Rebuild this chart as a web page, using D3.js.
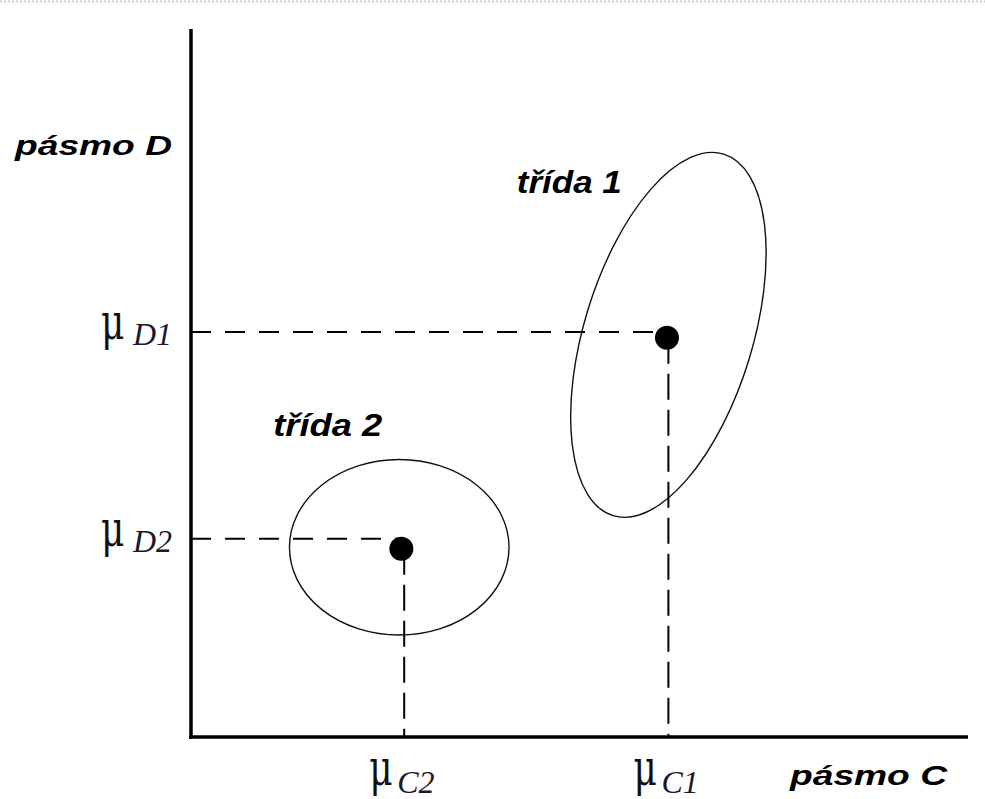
<!DOCTYPE html>
<html>
<head>
<meta charset="utf-8">
<script src="https://cdn.jsdelivr.net/npm/d3@7"></script>
<style>
  body { margin: 0; background: #fff; }
</style>
</head>
<body>
<div id="chart"></div>
<script>
// two classes in the space of band C (x) and band D (y)
const classes = ['třída 1', 'třída 2'];
const meanC = [67.2, 29.7];   // dots
const meanD = [56.4, 26.6];
const muC = [67.4, 30.1];     // where the dashed guides meet the axes
const muD = [57.2, 28.0];
const muCLabels = ['C1', 'C2'];
const muDLabels = ['D1', 'D2'];

// ellipses: centre, half axes, tilt from vertical (deg)
const ellC = [67.4, 29.4];
const ellD = [56.8, 26.8];
const ellRx = [11.9, 15.5];
const ellRy = [26.7, 12.4];
const ellTilt = [17, 0];

// class label anchors
const labC = [46.0, 11.6];
const labD = [76.8, 42.5];
const labW = [105, 109];

const W = 985, H = 799;

const x = d3.scaleLinear().domain([0, 109.7]).range([191, 968]);
const y = d3.scaleLinear().domain([0, 100]).range([737, 29]);

const svg = d3.select('#chart')
  .append('svg')
  .attr('width', W)
  .attr('height', H);

// faint dotted edge at the top
svg.append('line')
  .attr('x1', 0).attr('x2', W)
  .attr('y1', 1.5).attr('y2', 1.5)
  .attr('stroke', '#ccc')
  .attr('stroke-width', 2)
  .attr('stroke-dasharray', '2,2');

// dashed guides
classes.forEach((c, i) => {
  svg.append('line')
    .attr('x1', x(0)).attr('x2', x(meanC[i]))
    .attr('y1', y(muD[i])).attr('y2', y(muD[i]))
    .attr('stroke', '#000')
    .attr('stroke-width', 2)
    .attr('stroke-dasharray', '20,14');
  svg.append('line')
    .attr('x1', x(muC[i])).attr('x2', x(muC[i]))
    .attr('y1', y(meanD[i])).attr('y2', y(0))
    .attr('stroke', '#000')
    .attr('stroke-width', 2)
    .attr('stroke-dasharray', '26,10');
});

// ellipses
classes.forEach((c, i) => {
  const cx = x(ellC[i]), cy = y(ellD[i]);
  svg.append('ellipse')
    .attr('cx', cx).attr('cy', cy)
    .attr('rx', x(ellRx[i]) - x(0))
    .attr('ry', y(0) - y(ellRy[i]))
    .attr('transform', `rotate(${ellTilt[i]},${cx},${cy})`)
    .attr('fill', 'none')
    .attr('stroke', '#111')
    .attr('stroke-width', 1.4);
});

// class means
svg.selectAll('circle.mean')
  .data(classes)
  .join('circle')
  .attr('class', 'mean')
  .attr('cx', (d, i) => x(meanC[i]))
  .attr('cy', (d, i) => y(meanD[i]))
  .attr('r', 12)
  .attr('fill', '#000');

// axes
svg.append('line')
  .attr('x1', x(0)).attr('x2', x(0))
  .attr('y1', y(100)).attr('y2', y(0) + 1.75)
  .attr('stroke', '#000').attr('stroke-width', 3.5);
svg.append('line')
  .attr('x1', x(0) - 1.75).attr('x2', x(109.7))
  .attr('y1', y(0)).attr('y2', y(0))
  .attr('stroke', '#000').attr('stroke-width', 3.5);

const sans = 'Liberation Sans, Arial, sans-serif';
const serif = 'Liberation Serif, Times New Roman, serif';

// class labels
classes.forEach((c, i) => {
  svg.append('text')
    .attr('x', x(labC[i])).attr('y', y(labD[i]))
    .attr('font-family', sans)
    .attr('font-size', 32)
    .attr('font-weight', 'bold')
    .attr('font-style', 'italic')
    .attr('textLength', labW[i])
    .attr('lengthAdjust', 'spacingAndGlyphs')
    .text(c);
});

// band names
svg.append('text')
  .attr('x', 15).attr('y', 155)
  .attr('font-family', sans).attr('font-size', 28)
  .attr('font-weight', 'bold').attr('font-style', 'italic')
  .attr('textLength', 157).attr('lengthAdjust', 'spacingAndGlyphs')
  .text('pásmo D');
svg.append('text')
  .attr('x', 790).attr('y', 785)
  .attr('font-family', sans).attr('font-size', 28)
  .attr('font-weight', 'bold').attr('font-style', 'italic')
  .attr('textLength', 157).attr('lengthAdjust', 'spacingAndGlyphs')
  .text('pásmo C');

// mu labels
function muLabel(px, py, sub, dx, dy) {
  svg.append('text')
    .attr('transform', `translate(${px},${py}) scale(1.0,1.4)`)
    .attr('font-family', 'DejaVu Serif, serif')
    .attr('font-size', 36)
    .attr('fill', '#111')
    .text('μ');
  svg.append('text')
    .attr('x', px + dx).attr('y', py + dy)
    .attr('font-family', serif)
    .attr('font-size', 32)
    .attr('font-style', 'italic')
    .attr('fill', '#1a1a2a')
    .text(sub);
}

muDLabels.forEach((s, i) => muLabel(x(0) - 90, y(muD[i]) + 7, s, 32, 6));
muCLabels.forEach((s, i) => muLabel(x(muC[i]) - 35, y(0) + 48, s, 28, 8));
</script>
</body>
</html>
